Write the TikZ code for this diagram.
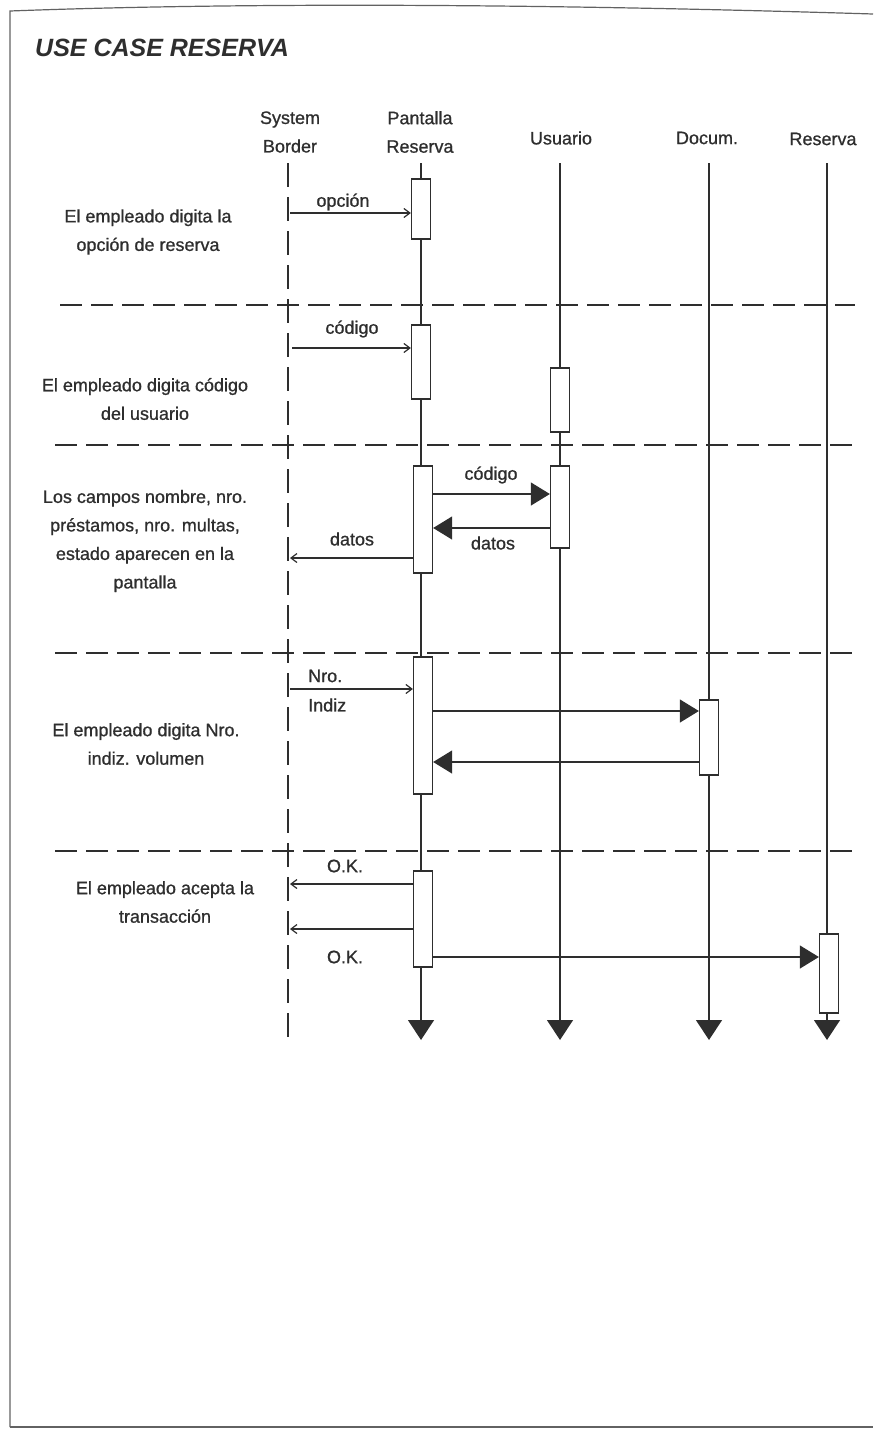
\documentclass[tikz,border=0pt]{standalone}
\usepackage{fontspec}
\setmainfont{Liberation Sans}
\newfontfamily\scanfont[FakeBold=0.9]{Liberation Sans}
\usepackage{tikz}
\usetikzlibrary{arrows.meta,positioning,calc}
\definecolor{ink}{HTML}{2E2E2E}
\tikzset{
  sd/title/.style={font=\fontsize{25}{30}\selectfont\bfseries\itshape, text=ink, anchor=west, inner sep=0pt},
  sd/text/.style={font=\scanfont\fontsize{18}{28.5}\selectfont, text=ink, align=center, inner sep=0pt},
  sd/msglabel/.style={font=\scanfont\fontsize{18}{22}\selectfont, text=ink, inner sep=0pt},
  sd/frame/.style={line width=1.2pt, draw=ink!75},
  sd/life/.style={line width=1.3pt, draw=ink, -{Triangle[length=20pt,width=26pt]}},
  sd/border/.style={line width=1.4pt, draw=ink, dash pattern=on 24pt off 10pt},
  sd/sep/.style={line width=1.7pt, draw=ink, dash pattern=on 22pt off 9pt},
  sd/act/.style={draw=ink, fill=white, line width=1.3pt, minimum width=19pt, inner sep=0pt},
  sd/msg/.style={line width=1.2pt, draw=ink, -{Straight Barb[length=6pt,width=9pt]}},
  sd/call/.style={line width=1.2pt, draw=ink, -{Triangle[length=19pt,width=23pt]}}
}

\begin{document}
\begin{tikzpicture}[x=1pt,y=-1pt]

\useasboundingbox (0,0) rectangle (873,1430);

% page frame
\draw[sd/frame] (10,1427) -- (10,11) .. controls (250,2) and (550,4) .. (873,14);
\draw[sd/frame] (10,1427) -- (873,1427);

\node[sd/title] (title) at (35,48) {USE CASE RESERVA};

% headers
\node[sd/text] (hd-sb) at (290,132) {System\\Border};
\node[sd/text] (hd-pr) at (420,132) {Pantalla\\Reserva};
\node[sd/text] (hd-us) at (561,138) {Usuario};
\node[sd/text] (hd-dc) at (707,138) {Docum.};
\node[sd/text] (hd-rs) at (823,139) {Reserva};

% lifelines
\draw[sd/border] (288,163) -- (288,1040);
\foreach \x in {421,560,709,827} {
  \draw[sd/life] (\x,163) -- (\x,1040);
}

% separators
\draw[sd/sep] (60,305) -- (855,305);
\foreach \y in {445,653,851} {
  \draw[sd/sep] (55,\y) -- (855,\y);
}

% activations
\node[sd/act, minimum height=60pt] (a1) at (421,209) {};
\node[sd/act, minimum height=74pt] (a2) at (421,362) {};
\node[sd/act, minimum height=64pt] (u2) at (560,400) {};
\node[sd/act, minimum height=107pt] (a3) at (423,519.5) {};
\node[sd/act, minimum height=82pt] (u3) at (560,507) {};
\node[sd/act, minimum height=137pt] (a4) at (423,725.5) {};
\node[sd/act, minimum height=75pt] (d4) at (709,737.5) {};
\node[sd/act, minimum height=96pt] (a5) at (423,919) {};
\node[sd/act, minimum height=79pt] (r5) at (829,973.5) {};

% message rows on the system border
\coordinate (b1) at (290,213);
\coordinate (b2) at (292,348);
\coordinate (b3) at (290,558);
\coordinate (b4) at (290,689);
\coordinate (b5) at (290,884);
\coordinate (b6) at (290,929);

% 1
\draw[sd/msg] (b1) -- (b1 -| a1.west);
\node[sd/msglabel] (m1) at (343,202) {opción};
\node[sd/text] (t1) at (148,232) {El empleado digita la\\opción de reserva};

% 2
\draw[sd/msg] (b2) -- (b2 -| a2.west);
\node[sd/msglabel] (m2) at (352,329) {código};
\node[sd/text] (t2) at (145,399) {El empleado digita código\\del usuario};

% 3
\draw[sd/call] (a3.east |- 0,494) -- (u3.west |- 0,494);
\node[sd/msglabel] (m3) at (491,475) {código};
\draw[sd/call] (u3.west |- 0,528) -- (a3.east |- 0,528);
\node[sd/msglabel] (m4) at (493,543) {datos};
\draw[sd/msg] (b3 -| a3.west) -- (b3);
\node[sd/msglabel] (m5) at (352,539) {datos};
\node[sd/text] (t3) at (145,541) {Los campos nombre, nro.\\préstamos, nro. multas,\\estado aparecen en la\\pantalla};

% 4
\draw[sd/msg] (b4) -- (b4 -| a4.west);
\node[sd/msglabel, anchor=west] (m6) at (308,676) {Nro.};
\node[sd/msglabel, anchor=west] (m6b) at (308,705) {Indiz};
\draw[sd/call] (a4.east |- 0,711) -- (d4.west |- 0,711);
\draw[sd/call] (d4.west |- 0,762) -- (a4.east |- 0,762);
\node[sd/text] (t4) at (146,744) {El empleado digita Nro.\\indiz. volumen};

% 5
\draw[sd/msg] (b5 -| a5.west) -- (b5);
\node[sd/msglabel] (m9) at (345,866) {O.K.};
\draw[sd/msg] (b6 -| a5.west) -- (b6);
\node[sd/msglabel] (m10) at (345,957) {O.K.};
\draw[sd/call] (a5.east |- 0,957) -- (r5.west |- 0,957);
\node[sd/text] (t5) at (165,902) {El empleado acepta la\\transacción};

\end{tikzpicture}
\end{document}
